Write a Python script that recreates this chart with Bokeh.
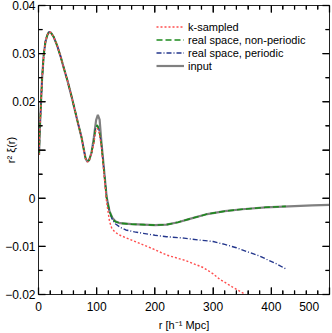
from bokeh.plotting import figure
from bokeh.models import (FixedTicker, LinearAxis, Legend, LegendItem,
                          CustomJSTickFormatter, Range1d)
from bokeh.embed import file_html
from bokeh.resources import INLINE

# ---------------- data ----------------
r_input = [1, 2, 4, 6, 9, 12, 15, 18, 21, 26, 32, 38, 44, 50, 56, 62, 68, 74, 78, 81, 84, 87, 91,
           95, 99, 102, 105, 108, 112, 117, 122, 127, 132, 140, 160, 180, 200, 220, 240, 260,
           290, 320, 350, 390, 430, 470, 500]
xi_input = [0.0090, 0.0135, 0.0190, 0.0245, 0.0298, 0.0325, 0.0338, 0.0345, 0.0344, 0.0335,
            0.0317, 0.0294, 0.0268, 0.0243, 0.0215, 0.0185, 0.0155, 0.0126, 0.0100, 0.0082,
            0.0076, 0.0079, 0.0094, 0.0125, 0.0162, 0.0173, 0.0163, 0.0118, 0.0067, 0.0003,
            -0.0027, -0.0041, -0.0048, -0.0052, -0.0054, -0.0055, -0.0056, -0.0055, -0.0050,
            -0.0043, -0.0033, -0.0027, -0.0023, -0.0019, -0.0017, -0.0015, -0.0014]

r_nonper = [1, 2, 4, 6, 9, 12, 15, 18, 21, 26, 32, 38, 44, 50, 56, 62, 68, 74, 78, 81, 84, 87, 91,
            95, 98, 101, 104, 108, 112, 117, 122, 127, 132, 140, 160, 180, 200, 220, 240, 260,
            290, 320, 350, 390, 425]
xi_nonper = [0.0090, 0.0135, 0.0190, 0.0245, 0.0298, 0.0325, 0.0338, 0.0345, 0.0344, 0.0335,
             0.0317, 0.0294, 0.0268, 0.0243, 0.0215, 0.0185, 0.0155, 0.0126, 0.0100, 0.0082,
             0.0076, 0.0079, 0.0094, 0.0118, 0.0145, 0.0152, 0.0142, 0.0112, 0.0063, 0.0001,
             -0.0028, -0.0042, -0.0049, -0.0052, -0.0054, -0.0055, -0.0056, -0.0055, -0.0050,
             -0.0043, -0.0033, -0.0027, -0.0023, -0.0019, -0.0017]

r_per = [1, 2, 4, 6, 9, 12, 15, 18, 21, 26, 32, 38, 44, 50, 56, 62, 68, 74, 78, 81, 84, 87, 91,
         95, 98, 101, 104, 108, 112, 117, 122, 127, 132, 141, 150, 165, 180, 200, 220, 250, 277,
         300, 320, 340, 363, 380, 392, 410, 425]
xi_per = [0.0090, 0.0135, 0.0190, 0.0245, 0.0298, 0.0325, 0.0338, 0.0345, 0.0344, 0.0335,
          0.0317, 0.0294, 0.0268, 0.0243, 0.0215, 0.0185, 0.0155, 0.0126, 0.0100, 0.0082,
          0.0076, 0.0079, 0.0094, 0.0118, 0.0145, 0.0152, 0.0142, 0.0112, 0.0063, 0.0001,
          -0.0029, -0.0045, -0.0053, -0.0061, -0.0066, -0.0070, -0.0073, -0.0077, -0.0080,
          -0.0083, -0.0087, -0.0090, -0.0096, -0.0103, -0.0113, -0.0120, -0.0127, -0.0137, -0.0147]

r_ksamp = [1, 2, 4, 6, 9, 12, 15, 18, 21, 26, 32, 38, 44, 50, 56, 62, 68, 74, 78, 81, 84, 87, 91,
           95, 98, 101, 104, 108, 112, 117, 122, 126, 132, 140, 150, 164, 180, 198, 220, 254,
           283, 300, 311, 334, 356, 362]
xi_ksamp = [0.0090, 0.0135, 0.0190, 0.0245, 0.0298, 0.0325, 0.0338, 0.0345, 0.0344, 0.0335,
            0.0317, 0.0294, 0.0268, 0.0243, 0.0215, 0.0185, 0.0155, 0.0126, 0.0100, 0.0082,
            0.0075, 0.0078, 0.0093, 0.0112, 0.0138, 0.0145, 0.0137, 0.0108, 0.0058, -0.0008,
            -0.0048, -0.0063, -0.0071, -0.0077, -0.0082, -0.0089, -0.0097, -0.0106, -0.0118,
            -0.0130, -0.0144, -0.0157, -0.0168, -0.0185, -0.0200, -0.0205]

series_labels = ["k-sampled", "real space, non-periodic", "real space, periodic", "input"]

x_ticks = [0, 100, 200, 300, 400, 500]
x_tick_labels = ["0", "100", "200", "300", "400", "500\u2007\u2007"]
x_minor = [20, 40, 60, 80, 120, 140, 160, 180, 220, 240, 260, 280, 320, 340, 360, 380,
           420, 440, 460, 480]
y_ticks = [-0.02, -0.01, 0.0, 0.01, 0.02, 0.03, 0.04]
y_tick_labels = ["\u22120.02", "\u22120.01", "0", "", "0.02", "0.03", "0.04"]
y_minor = [-0.015, -0.005, 0.005, 0.015, 0.025, 0.035]

x_title = "r [h\u207b\u00b9 Mpc]"
y_title = "r\u00b2 \u03be(r)"

FONT = "Liberation Sans"
AX = "#222222"

X0, X1, Y0, Y1 = 0, 500, -0.02, 0.04
W, H = 332, 333
BL, BR, BT, BB = 38, 3, 5, 38

p = figure(width=W, height=H, output_backend="svg", toolbar_location=None,
           x_range=Range1d(X0, X1), y_range=Range1d(Y0, Y1),
           min_border_left=BL, min_border_right=BR, min_border_top=BT, min_border_bottom=BB,
           x_axis_location=None, y_axis_location=None)
p.grid.visible = False
p.outline_line_color = AX
p.background_fill_color = "white"
p.border_fill_color = "white"

xt = FixedTicker(ticks=x_ticks, minor_ticks=x_minor)
yt = FixedTicker(ticks=y_ticks, minor_ticks=y_minor)
blank = CustomJSTickFormatter(code="return ''")

def style(ax):
    ax.axis_line_color = AX
    ax.major_tick_line_color = AX
    ax.minor_tick_line_color = AX
    ax.major_tick_in = 7
    ax.major_tick_out = 0
    ax.minor_tick_in = 4
    ax.minor_tick_out = 0
    ax.major_label_text_font = FONT
    ax.major_label_text_font_size = "12px"
    ax.major_label_text_color = "black"
    ax.axis_label_text_font = FONT
    ax.axis_label_text_font_size = "11px"
    ax.axis_label_text_font_style = "normal"
    ax.axis_label_text_color = "black"

bx = LinearAxis(ticker=xt, axis_label=x_title)
style(bx)
bx.major_label_standoff = 5
bx.axis_label_standoff = 2
bx.major_label_overrides = {t: s for t, s in zip(x_ticks, x_tick_labels)}
p.add_layout(bx, "below")

lx = LinearAxis(ticker=yt, axis_label=y_title)
style(lx)
lx.major_label_standoff = 3
lx.axis_label_standoff = -15
lx.major_label_overrides = {t: s for t, s in zip(y_ticks, y_tick_labels)}
p.add_layout(lx, "left")

tx = LinearAxis(ticker=xt, formatter=blank)
style(tx)
tx.major_label_text_font_size = "0px"
tx.major_label_standoff = 0
p.add_layout(tx, "above")

ry = LinearAxis(ticker=yt, formatter=blank)
style(ry)
ry.major_label_text_font_size = "0px"
ry.major_label_standoff = 0
p.add_layout(ry, "right")

# inward tick marks on all four sides, derived from the tick lists
fw, fh = W - BL - BR, H - BT - BB
dx = (X1 - X0) / fw
dy = (Y1 - Y0) / fh
MAJ, MIN = 7, 4
tick_kw = dict(line_color="black", line_width=1.3, level="overlay")
for ticks, L in ((x_ticks, MAJ), (x_minor, MIN)):
    n = len(ticks)
    p.segment(x0=list(ticks), x1=list(ticks), y0=[Y0] * n, y1=[Y0 + L * dy] * n, **tick_kw)
    p.segment(x0=list(ticks), x1=list(ticks), y0=[Y1] * n, y1=[Y1 - L * dy] * n, **tick_kw)
for ticks, L in ((y_ticks, MAJ), (y_minor, MIN)):
    n = len(ticks)
    p.segment(x0=[X0] * n, x1=[X0 + L * dx] * n, y0=list(ticks), y1=list(ticks), **tick_kw)
    p.segment(x0=[X1] * n, x1=[X1 - L * dx] * n, y0=list(ticks), y1=list(ticks), **tick_kw)

g_in = p.line(r_input, xi_input, line_color="#808080", line_width=2.2)
g_per = p.line(r_per, xi_per, line_color="#23368c", line_width=1.4, line_dash="5 2 1 2")
g_np = p.line(r_nonper, xi_nonper, line_color="#1d8a1d", line_width=1.6, line_dash="6 3")
g_k = p.line(r_ksamp, xi_ksamp, line_color="#ff4d4d", line_width=1.4, line_dash="2 2")

legend = Legend(items=[LegendItem(label=series_labels[0], renderers=[g_k]),
                       LegendItem(label=series_labels[1], renderers=[g_np]),
                       LegendItem(label=series_labels[2], renderers=[g_per]),
                       LegendItem(label=series_labels[3], renderers=[g_in])],
                location=(118, 222), orientation="vertical",
                border_line_alpha=0, background_fill_alpha=0,
                padding=0, margin=0, spacing=0,
                glyph_width=28, glyph_height=13, label_height=13, label_standoff=4,
                label_text_font=FONT, label_text_font_size="11px", label_text_color="black")
p.add_layout(legend)

open("out.html", "w").write(file_html(p, INLINE))
